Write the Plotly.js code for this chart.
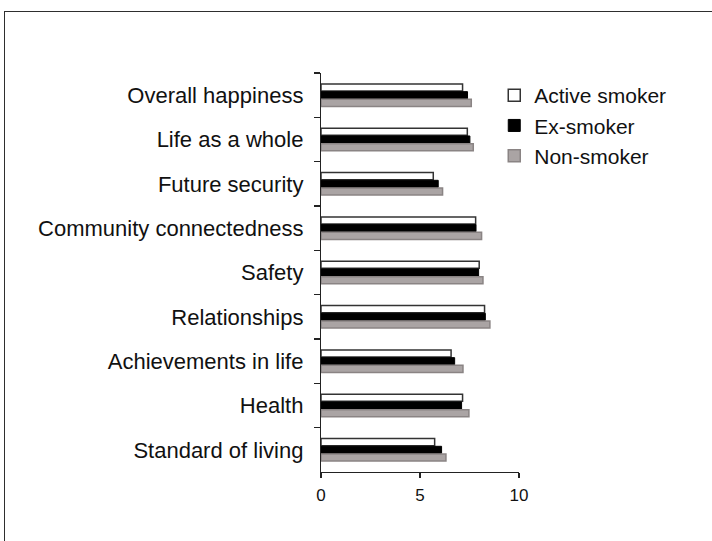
<!DOCTYPE html>
<html>
<head>
<meta charset="utf-8">
<script src="https://cdn.plot.ly/plotly-3.0.1.min.js"></script>
<style>
  html, body { margin: 0; padding: 0; overflow: hidden; background: #ffffff; }
  #chart { position: absolute; left: 0; top: 0; width: 712px; height: 541px; }
  #frame {
    position: absolute; left: 4px; top: 11px; width: 760px; height: 600px;
    border-left: 1.5px solid #2e2e2e; border-top: 1.5px solid #2e2e2e;
    pointer-events: none;
  }
</style>
</head>
<body>
<div id="chart"></div>
<div id="frame"></div>
<script>
// Wellbeing domain scores (0-10) by smoking status
const domains = [
  "Overall happiness",
  "Life as a whole",
  "Future security",
  "Community connectedness",
  "Safety",
  "Relationships",
  "Achievements in life",
  "Health",
  "Standard of living"
];
const activeSmoker = [7.15, 7.39, 5.67, 7.81, 7.99, 8.26, 6.57, 7.15, 5.74];
const exSmoker     = [7.40, 7.52, 5.92, 7.83, 7.96, 8.30, 6.75, 7.10, 6.09];
const nonSmoker    = [7.59, 7.69, 6.14, 8.11, 8.18, 8.53, 7.17, 7.47, 6.31];
const xTicks = [0, 5, 10];

const font = "Liberation Sans, Arial, sans-serif";

const traces = [
  {
    name: "Active smoker", type: "bar", orientation: "h",
    y: domains, x: activeSmoker,
    marker: { color: "#ffffff", line: { color: "#333333", width: 1.5 } }
  },
  {
    name: "Ex-smoker", type: "bar", orientation: "h",
    y: domains, x: exSmoker,
    marker: { color: "#000000", line: { color: "#000000", width: 1 } }
  },
  {
    name: "Non-smoker", type: "bar", orientation: "h",
    y: domains, x: nonSmoker,
    marker: { color: "#aaa4a4", line: { color: "#8a8484", width: 1.5 } }
  }
];

const layout = {
  width: 712, height: 541,
  margin: { l: 321, r: 193, t: 73, b: 69, pad: 0 },
  paper_bgcolor: "rgba(0,0,0,0)",
  plot_bgcolor: "rgba(0,0,0,0)",
  font: { family: font, color: "#111111" },
  barmode: "group",
  bargap: 0.48,
  bargroupgap: 0.08,
  showlegend: true,
  legend: {
    x: 0.875, xanchor: "left", y: 0.995, yanchor: "top",
    traceorder: "normal",
    font: { family: font, size: 21, color: "#111111" },
    bgcolor: "rgba(0,0,0,0)",
    itemwidth: 30
  },
  xaxis: {
    range: [0, 10], fixedrange: true,
    tickmode: "array", tickvals: xTicks, ticktext: xTicks.map(String),
    showgrid: false, zeroline: false,
    showline: true, linecolor: "#222222", linewidth: 1.2,
    ticks: "outside", ticklen: 5, tickcolor: "#222222", tickwidth: 1.2,
    ticklabelstandoff: 2,
    tickfont: { family: font, size: 17, color: "#111111" }
  },
  yaxis: {
    type: "category", autorange: "reversed", fixedrange: true,
    categoryorder: "array", categoryarray: domains,
    showgrid: false, zeroline: false,
    showline: true, linecolor: "#222222", linewidth: 1.2,
    ticks: "outside", ticklen: 6, tickcolor: "#222222", tickwidth: 1.2,
    tickson: "boundaries",
    ticklabelstandoff: 12,
    tickfont: { family: font, size: 22, color: "#111111" }
  }
};

Plotly.newPlot("chart", traces, layout, { displayModeBar: false, staticPlot: true });
</script>
</body>
</html>
